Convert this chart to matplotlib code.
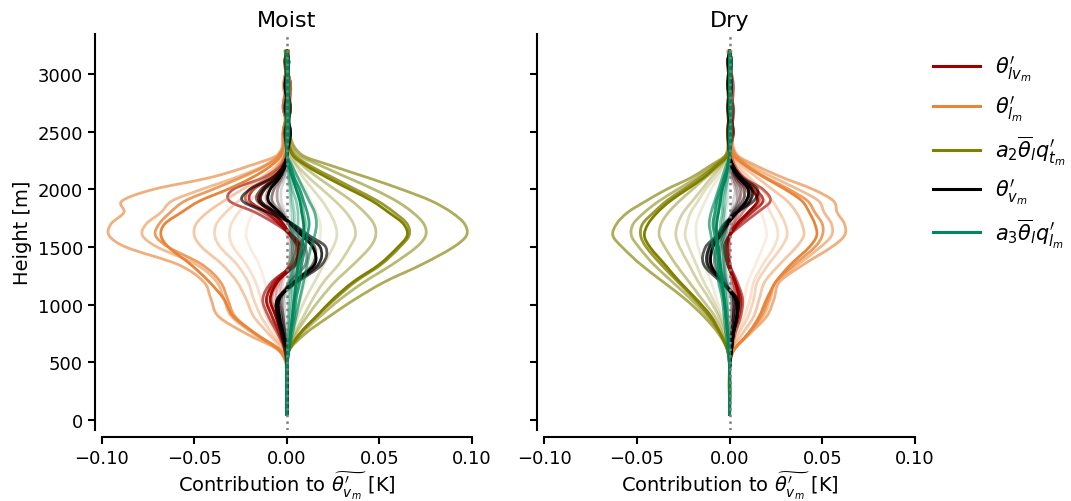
import numpy as np
import matplotlib
matplotlib.use('Agg')
import matplotlib.pyplot as plt
from matplotlib.path import Path
from matplotlib.patches import PathPatch
from matplotlib.lines import Line2D

# ---------------- data ----------------
heights = [50, 450, 600, 750, 900, 1050, 1200, 1350, 1500, 1600, 1700, 1800,
           1900, 2000, 2100, 2200, 2300, 2500, 2700, 2900, 3100, 3200]
time_alphas = [0.15, 0.25, 0.35, 0.45, 0.55, 0.65, 0.8, 1.0]

var_labels = [r"$\theta^\prime_{lv_m}$", r"$\theta^\prime_{l_m}$",
              r"$a_2\overline{\theta}_lq^\prime_{t_m}$", r"$\theta^\prime_{v_m}$",
              r"$a_3\overline{\theta}_lq^\prime_{l_m}$"]
var_colors = ['#9e0000', '#e8853a', '#808000', '#000000', '#00875a']
panel_titles = ['Moist', 'Dry']
x_ticks = [-0.10, -0.05, 0.00, 0.05, 0.10]
y_ticks = [0, 500, 1000, 1500, 2000, 2500, 3000]

moist_thlv = [
    [0, 0, 0.000, -0.001, -0.002, -0.003, -0.002, 0.001, 0.002, 0.000, -0.001, -0.003, -0.005, -0.005, -0.003, -0.001, 0.000, 0.001, -0.001, 0.001, 0.000, 0.000],
    [0, 0, 0.000, -0.002, -0.003, -0.004, -0.003, 0.001, 0.003, 0.001, -0.002, -0.005, -0.008, -0.007, -0.004, -0.001, 0.000, -0.001, 0.001, 0.000, -0.001, 0.000],
    [0, 0, 0.000, -0.002, -0.004, -0.006, -0.004, 0.002, 0.004, 0.002, -0.002, -0.007, -0.011, -0.010, -0.005, -0.002, 0.000, 0.001, 0.000, -0.001, 0.001, 0.000],
    [0, 0, 0.000, -0.003, -0.005, -0.008, -0.005, 0.002, 0.005, 0.002, -0.003, -0.009, -0.015, -0.013, -0.007, -0.002, 0.000, 0.002, -0.001, 0.001, 0.000, 0.001],
    [0, 0, -0.001, -0.004, -0.008, -0.011, -0.007, 0.003, 0.007, 0.003, -0.004, -0.013, -0.022, -0.020, -0.010, -0.003, 0.000, -0.002, 0.001, 0.002, -0.001, 0.000],
    [0, 0, -0.001, -0.005, -0.010, -0.013, -0.008, 0.004, 0.009, 0.003, -0.006, -0.017, -0.031, -0.029, -0.013, -0.004, -0.001, 0.002, -0.002, 0.000, 0.001, 0.000],
    [0, 0, -0.001, -0.004, -0.008, -0.011, -0.006, 0.005, 0.008, 0.002, -0.004, -0.011, -0.020, -0.018, -0.008, -0.002, 0.000, -0.001, 0.002, -0.001, 0.000, 0.001],
    [0, 0, 0.000, -0.003, -0.006, -0.009, -0.005, 0.004, 0.006, 0.002, -0.002, -0.008, -0.015, -0.013, -0.006, -0.002, 0.000, 0.001, -0.001, 0.002, -0.001, 0.000],
]
moist_thl = [
    [0, 0, 0.000, -0.004, -0.008, -0.010, -0.012, -0.015, -0.020, -0.022, -0.021, -0.018, -0.014, -0.009, -0.005, -0.002, -0.001, 0.000, -0.001, 0.001, 0.000, 0.000],
    [0, 0, -0.001, -0.006, -0.011, -0.014, -0.017, -0.022, -0.029, -0.031, -0.030, -0.026, -0.020, -0.013, -0.008, -0.004, -0.001, -0.001, 0.001, -0.001, 0.001, 0.000],
    [0, 0, -0.001, -0.008, -0.014, -0.018, -0.021, -0.027, -0.036, -0.039, -0.038, -0.033, -0.026, -0.018, -0.010, -0.005, -0.001, 0.001, -0.001, 0.000, -0.001, 0.000],
    [0, 0, -0.002, -0.010, -0.018, -0.022, -0.027, -0.035, -0.046, -0.050, -0.049, -0.043, -0.034, -0.024, -0.014, -0.006, -0.002, -0.002, 0.001, 0.001, 0.000, -0.001],
    [0, 0, -0.003, -0.018, -0.030, -0.034, -0.038, -0.049, -0.070, -0.078, -0.076, -0.068, -0.062, -0.046, -0.028, -0.013, -0.004, 0.001, -0.002, 0.000, 0.001, 0.000],
    [0, 0, -0.004, -0.022, -0.037, -0.041, -0.045, -0.059, -0.087, -0.096, -0.095, -0.088, -0.089, -0.072, -0.042, -0.021, -0.005, -0.002, 0.001, -0.002, 0.001, 0.000],
    [0, 0, -0.003, -0.017, -0.028, -0.032, -0.036, -0.046, -0.064, -0.071, -0.069, -0.063, -0.055, -0.040, -0.025, -0.012, -0.004, 0.000, -0.001, 0.002, -0.001, 0.000],
    [0, 0, -0.004, -0.017, -0.029, -0.034, -0.042, -0.052, -0.064, -0.068, -0.066, -0.057, -0.047, -0.032, -0.019, -0.009, -0.003, -0.001, 0.002, -0.001, 0.000, 0.001],
]
moist_qt = [
    [0, 0, 0.000, 0.002, 0.004, 0.007, 0.010, 0.013, 0.017, 0.018, 0.018, 0.016, 0.013, 0.010, 0.006, 0.003, 0.001, 0.000, 0.001, -0.001, 0.000, 0.000],
    [0, 0, 0.000, 0.003, 0.006, 0.010, 0.015, 0.020, 0.025, 0.027, 0.026, 0.023, 0.019, 0.014, 0.009, 0.005, 0.001, 0.001, -0.001, 0.000, 0.001, 0.000],
    [0, 0, 0.001, 0.004, 0.009, 0.014, 0.020, 0.028, 0.034, 0.037, 0.036, 0.032, 0.026, 0.019, 0.012, 0.006, 0.002, -0.001, 0.000, 0.001, -0.001, 0.000],
    [0, 0, 0.001, 0.005, 0.011, 0.018, 0.026, 0.036, 0.045, 0.048, 0.047, 0.042, 0.035, 0.026, 0.017, 0.009, 0.003, 0.001, 0.001, -0.001, 0.000, 0.001],
    [0, 0, 0.001, 0.008, 0.018, 0.029, 0.042, 0.057, 0.070, 0.075, 0.074, 0.068, 0.059, 0.047, 0.033, 0.019, 0.006, 0.000, -0.001, 0.001, 0.000, 0.000],
    [0, 0, 0.001, 0.010, 0.023, 0.037, 0.053, 0.073, 0.090, 0.097, 0.096, 0.089, 0.078, 0.062, 0.044, 0.025, 0.008, 0.001, 0.000, -0.001, 0.001, 0.000],
    [0, 0, 0.001, 0.007, 0.016, 0.026, 0.037, 0.051, 0.061, 0.066, 0.065, 0.058, 0.049, 0.037, 0.025, 0.013, 0.004, -0.001, 0.001, 0.000, -0.001, 0.000],
    [0, 0, 0.001, 0.007, 0.016, 0.025, 0.036, 0.050, 0.060, 0.065, 0.063, 0.055, 0.046, 0.034, 0.022, 0.011, 0.003, 0.000, 0.001, 0.001, 0.000, -0.001],
]
moist_thv = [
    [0, 0, 0.000, 0.000, -0.001, -0.001, 0.001, 0.003, 0.003, 0.002, 0.001, -0.001, -0.003, -0.003, -0.001, 0.000, 0.000, 0.001, 0.000, -0.001, 0.000, 0.000],
    [0, 0, 0.000, -0.001, -0.002, -0.002, 0.001, 0.005, 0.005, 0.003, 0.001, -0.002, -0.005, -0.005, -0.002, 0.000, 0.000, -0.001, 0.001, 0.000, 0.001, 0.000],
    [0, 0, 0.000, -0.001, -0.002, -0.003, 0.002, 0.007, 0.007, 0.004, 0.001, -0.003, -0.008, -0.007, -0.003, -0.001, 0.000, 0.001, -0.001, 0.001, 0.000, 0.000],
    [0, 0, 0.000, -0.001, -0.003, -0.004, 0.002, 0.010, 0.010, 0.006, 0.002, -0.004, -0.010, -0.009, -0.004, -0.001, 0.000, 0.000, 0.001, -0.001, 0.001, 0.000],
    [0, 0, 0.000, -0.002, -0.004, -0.005, 0.004, 0.014, 0.015, 0.009, 0.002, -0.006, -0.016, -0.014, -0.006, -0.002, 0.000, 0.001, 0.000, 0.001, -0.001, 0.000],
    [0, 0, -0.001, -0.003, -0.005, -0.005, 0.006, 0.019, 0.021, 0.012, 0.003, -0.010, -0.024, -0.020, -0.008, -0.002, 0.000, -0.001, 0.002, 0.000, 0.001, 0.000],
    [0, 0, 0.000, -0.002, -0.005, -0.005, 0.005, 0.017, 0.018, 0.010, 0.003, -0.006, -0.014, -0.012, -0.005, -0.001, 0.000, 0.002, -0.001, 0.001, 0.000, 0.000],
    [0, 0, 0.000, -0.002, -0.004, -0.004, 0.004, 0.015, 0.014, 0.008, 0.002, -0.004, -0.010, -0.009, -0.004, -0.001, 0.000, 0.001, 0.001, -0.001, 0.001, 0.000],
]
moist_ql = [
    [0, 0, 0.000, 0.000, 0.001, 0.001, 0.001, 0.001, 0.002, 0.002, 0.002, 0.002, 0.002, 0.001, 0.001, 0.000, 0.000, 0.000, 0.000, 0.000, 0.000, 0.000],
    [0, 0, 0.000, 0.001, 0.001, 0.001, 0.002, 0.002, 0.002, 0.003, 0.003, 0.003, 0.002, 0.002, 0.001, 0.001, 0.000, 0.000, 0.001, 0.000, 0.000, 0.000],
    [0, 0, 0.000, 0.001, 0.001, 0.002, 0.002, 0.003, 0.003, 0.004, 0.004, 0.004, 0.003, 0.002, 0.001, 0.001, 0.000, 0.001, 0.000, 0.000, 0.001, 0.000],
    [0, 0, 0.000, 0.001, 0.002, 0.003, 0.003, 0.004, 0.005, 0.006, 0.006, 0.006, 0.005, 0.003, 0.002, 0.001, 0.000, 0.000, 0.001, 0.001, 0.000, 0.000],
    [0, 0, 0.001, 0.002, 0.003, 0.004, 0.006, 0.007, 0.008, 0.009, 0.010, 0.009, 0.008, 0.006, 0.004, 0.002, 0.000, 0.001, 0.000, 0.001, 0.000, 0.000],
    [0, 0, 0.001, 0.003, 0.005, 0.007, 0.009, 0.011, 0.013, 0.015, 0.016, 0.015, 0.012, 0.009, 0.006, 0.003, 0.000, 0.000, 0.001, 0.000, 0.001, 0.000],
    [0, 0, 0.001, 0.002, 0.004, 0.005, 0.007, 0.008, 0.010, 0.011, 0.012, 0.011, 0.009, 0.007, 0.004, 0.002, 0.000, 0.001, 0.001, 0.000, 0.000, 0.000],
    [0, 0, 0.001, 0.002, 0.003, 0.004, 0.005, 0.006, 0.008, 0.009, 0.009, 0.008, 0.007, 0.005, 0.003, 0.001, 0.000, 0.000, 0.000, 0.001, 0.000, 0.000],
]

dry_thlv = [
    [0, 0, 0.000, 0.000, 0.001, 0.001, 0.001, 0.000, 0.000, 0.000, 0.001, 0.002, 0.004, 0.003, 0.001, 0.000, 0.000, 0.001, -0.001, 0.000, 0.001, 0.000],
    [0, 0, 0.000, 0.001, 0.002, 0.002, 0.001, 0.000, 0.000, 0.000, 0.002, 0.004, 0.006, 0.005, 0.002, 0.001, 0.000, -0.001, 0.001, 0.001, 0.000, 0.000],
    [0, 0, 0.000, 0.001, 0.002, 0.003, 0.002, 0.000, -0.001, 0.000, 0.002, 0.005, 0.008, 0.007, 0.003, 0.001, 0.000, 0.001, 0.000, -0.001, 0.001, 0.000],
    [0, 0, 0.000, 0.002, 0.003, 0.004, 0.002, 0.000, -0.001, 0.000, 0.003, 0.007, 0.011, 0.009, 0.004, 0.001, 0.000, 0.000, 0.002, 0.000, -0.001, 0.000],
    [0, 0, 0.001, 0.002, 0.004, 0.005, 0.003, 0.000, -0.001, 0.000, 0.004, 0.010, 0.016, 0.013, 0.006, 0.002, 0.000, 0.002, -0.001, 0.001, 0.000, 0.000],
    [0, 0, 0.001, 0.003, 0.006, 0.007, 0.004, 0.000, -0.002, 0.000, 0.007, 0.015, 0.022, 0.018, 0.008, 0.003, 0.001, -0.001, 0.001, 0.002, 0.000, 0.000],
    [0, 0, 0.001, 0.002, 0.005, 0.006, 0.003, -0.001, -0.003, 0.000, 0.005, 0.012, 0.018, 0.014, 0.006, 0.002, 0.000, 0.001, 0.002, -0.001, 0.001, 0.000],
    [0, 0, 0.001, 0.002, 0.004, 0.005, 0.003, -0.001, -0.002, 0.000, 0.004, 0.010, 0.015, 0.012, 0.005, 0.002, 0.000, 0.002, 0.000, 0.001, -0.001, 0.000],
]
dry_thl = [
    [0, 0, 0.000, 0.003, 0.006, 0.008, 0.010, 0.014, 0.018, 0.020, 0.019, 0.017, 0.014, 0.010, 0.006, 0.003, 0.001, 0.000, 0.001, -0.001, 0.000, 0.000],
    [0, 0, 0.001, 0.004, 0.008, 0.011, 0.013, 0.018, 0.024, 0.026, 0.025, 0.022, 0.019, 0.014, 0.009, 0.004, 0.001, 0.001, -0.001, 0.000, 0.001, 0.000],
    [0, 0, 0.001, 0.005, 0.010, 0.013, 0.015, 0.021, 0.028, 0.031, 0.030, 0.027, 0.023, 0.017, 0.011, 0.005, 0.001, -0.001, 0.000, 0.001, 0.000, 0.000],
    [0, 0, 0.001, 0.007, 0.013, 0.016, 0.019, 0.027, 0.036, 0.040, 0.039, 0.036, 0.031, 0.023, 0.015, 0.007, 0.002, 0.001, 0.001, -0.001, 0.000, 0.001],
    [0, 0, 0.002, 0.010, 0.018, 0.022, 0.025, 0.037, 0.049, 0.055, 0.055, 0.051, 0.048, 0.037, 0.024, 0.012, 0.003, 0.000, -0.001, 0.001, 0.000, 0.000],
    [0, 0, 0.002, 0.011, 0.020, 0.024, 0.027, 0.040, 0.055, 0.062, 0.062, 0.058, 0.056, 0.045, 0.029, 0.015, 0.004, 0.001, 0.000, -0.001, 0.001, 0.000],
    [0, 0, 0.002, 0.010, 0.017, 0.021, 0.025, 0.035, 0.046, 0.050, 0.050, 0.046, 0.042, 0.032, 0.020, 0.010, 0.003, -0.001, 0.001, 0.000, -0.001, 0.000],
    [0, 0, 0.002, 0.010, 0.016, 0.020, 0.025, 0.033, 0.043, 0.047, 0.046, 0.043, 0.039, 0.030, 0.019, 0.009, 0.002, 0.000, 0.001, 0.001, 0.000, -0.001],
]
dry_qt = [
    [0, 0, 0.000, -0.002, -0.004, -0.007, -0.010, -0.014, -0.017, -0.018, -0.018, -0.016, -0.013, -0.010, -0.006, -0.003, 0.000, 0.000, -0.001, 0.001, 0.000, 0.000],
    [0, 0, 0.000, -0.002, -0.005, -0.009, -0.014, -0.018, -0.022, -0.024, -0.023, -0.021, -0.017, -0.013, -0.008, -0.004, -0.001, -0.001, 0.001, 0.000, -0.001, 0.000],
    [0, 0, 0.000, -0.003, -0.006, -0.011, -0.017, -0.022, -0.027, -0.029, -0.028, -0.025, -0.020, -0.015, -0.010, -0.005, -0.001, 0.001, 0.000, -0.001, 0.001, 0.000],
    [0, 0, -0.001, -0.004, -0.008, -0.015, -0.022, -0.029, -0.035, -0.038, -0.037, -0.033, -0.027, -0.020, -0.013, -0.006, -0.001, 0.000, -0.001, 0.000, 0.001, 0.000],
    [0, 0, -0.001, -0.005, -0.012, -0.021, -0.031, -0.041, -0.049, -0.053, -0.052, -0.046, -0.038, -0.028, -0.018, -0.009, -0.002, -0.001, 0.000, 0.001, 0.000, 0.000],
    [0, 0, -0.001, -0.006, -0.014, -0.024, -0.036, -0.048, -0.058, -0.063, -0.061, -0.055, -0.045, -0.034, -0.021, -0.011, -0.002, 0.001, -0.001, 0.000, -0.001, 0.000],
    [0, 0, -0.001, -0.005, -0.011, -0.019, -0.028, -0.037, -0.045, -0.048, -0.047, -0.041, -0.034, -0.025, -0.016, -0.008, -0.001, 0.000, 0.001, -0.001, 0.000, 0.000],
    [0, 0, -0.001, -0.005, -0.010, -0.018, -0.027, -0.035, -0.043, -0.046, -0.044, -0.039, -0.032, -0.023, -0.014, -0.007, -0.001, -0.001, 0.000, 0.001, 0.000, 0.000],
]
dry_thv = [
    [0, 0, 0.000, 0.000, 0.001, 0.001, -0.001, -0.003, -0.002, -0.001, 0.000, 0.001, 0.002, 0.003, 0.001, 0.000, 0.000, 0.001, 0.000, -0.001, 0.000, 0.000],
    [0, 0, 0.000, 0.001, 0.001, 0.001, -0.002, -0.004, -0.004, -0.002, -0.001, 0.001, 0.004, 0.004, 0.002, 0.000, 0.000, -0.001, 0.001, 0.000, 0.000, 0.000],
    [0, 0, 0.000, 0.001, 0.002, 0.002, -0.002, -0.006, -0.005, -0.003, -0.001, 0.002, 0.005, 0.006, 0.003, 0.001, 0.000, 0.000, -0.001, 0.001, 0.000, 0.000],
    [0, 0, 0.000, 0.001, 0.002, 0.002, -0.003, -0.008, -0.007, -0.004, -0.001, 0.002, 0.007, 0.008, 0.004, 0.001, 0.000, 0.001, 0.001, -0.001, 0.001, 0.000],
    [0, 0, 0.001, 0.002, 0.003, 0.003, -0.004, -0.011, -0.010, -0.005, -0.002, 0.003, 0.009, 0.011, 0.005, 0.001, 0.000, -0.001, 0.000, 0.001, 0.000, 0.000],
    [0, 0, 0.001, 0.002, 0.004, 0.004, -0.005, -0.014, -0.013, -0.007, -0.003, 0.004, 0.013, 0.015, 0.007, 0.002, 0.000, 0.001, -0.001, 0.000, 0.001, 0.000],
    [0, 0, 0.001, 0.002, 0.004, 0.004, -0.004, -0.012, -0.011, -0.006, -0.002, 0.004, 0.011, 0.012, 0.006, 0.002, 0.000, 0.000, 0.001, -0.001, 0.000, 0.000],
    [0, 0, 0.001, 0.002, 0.004, 0.003, -0.004, -0.010, -0.009, -0.005, -0.001, 0.004, 0.009, 0.010, 0.005, 0.001, 0.000, 0.001, 0.000, 0.001, -0.001, 0.000],
]
dry_ql = [
    [0, 0, 0.000, 0.000, -0.001, -0.001, -0.001, -0.001, -0.002, -0.002, -0.002, -0.002, -0.001, -0.001, -0.001, 0.000, 0.000, 0.000, 0.000, 0.000, 0.000, 0.000],
    [0, 0, 0.000, 0.000, -0.001, -0.001, -0.002, -0.002, -0.002, -0.003, -0.003, -0.003, -0.002, -0.002, -0.001, 0.000, 0.000, 0.000, 0.001, 0.000, 0.000, 0.000],
    [0, 0, 0.000, -0.001, -0.001, -0.002, -0.002, -0.003, -0.003, -0.004, -0.004, -0.003, -0.003, -0.002, -0.001, -0.001, 0.000, 0.001, 0.000, 0.000, 0.001, 0.000],
    [0, 0, 0.000, -0.001, -0.001, -0.002, -0.003, -0.003, -0.004, -0.005, -0.005, -0.004, -0.004, -0.003, -0.002, -0.001, 0.000, 0.000, 0.001, 0.000, 0.000, 0.000],
    [0, 0, 0.000, -0.001, -0.002, -0.003, -0.004, -0.005, -0.007, -0.007, -0.008, -0.007, -0.006, -0.004, -0.003, -0.001, 0.000, 0.001, 0.000, 0.001, 0.000, 0.000],
    [0, 0, -0.001, -0.002, -0.003, -0.004, -0.006, -0.007, -0.009, -0.010, -0.011, -0.010, -0.008, -0.006, -0.004, -0.002, 0.000, 0.000, 0.001, 0.000, 0.001, 0.000],
    [0, 0, 0.000, -0.001, -0.002, -0.003, -0.005, -0.006, -0.007, -0.008, -0.009, -0.008, -0.007, -0.005, -0.003, -0.001, 0.000, 0.001, 0.000, 0.000, 0.000, 0.000],
    [0, 0, 0.000, -0.001, -0.002, -0.003, -0.004, -0.005, -0.006, -0.007, -0.007, -0.006, -0.005, -0.004, -0.002, -0.001, 0.000, 0.000, 0.001, 0.000, 0.000, 0.000],
]

panels = [
    [moist_thlv, moist_thl, moist_qt, moist_thv, moist_ql],
    [dry_thlv, dry_thl, dry_qt, dry_thv, dry_ql],
]


# ---------------- helpers ----------------
def smooth_profile_path(xvals, zvals):
    """Piecewise cubic (Hermite) Bezier path through the read points, x as a function of z."""
    x = np.asarray(xvals, float)
    z = np.asarray(zvals, float)
    n = len(z)
    m = np.empty(n)
    m[1:-1] = (x[2:] - x[:-2]) / (z[2:] - z[:-2])
    m[0] = (x[1] - x[0]) / (z[1] - z[0])
    m[-1] = (x[-1] - x[-2]) / (z[-1] - z[-2])
    verts = [(x[0], z[0])]
    codes = [Path.MOVETO]
    for i in range(n - 1):
        h = z[i + 1] - z[i]
        verts += [(x[i] + m[i] * h / 3, z[i] + h / 3),
                  (x[i + 1] - m[i + 1] * h / 3, z[i + 1] - h / 3),
                  (x[i + 1], z[i + 1])]
        codes += [Path.CURVE4] * 3
    return Path(verts, codes)


# ---------------- figure ----------------
fig = plt.figure(figsize=(10.71, 5.02), dpi=100)
ax1 = fig.add_axes([0.0950, 0.1414, 0.3457, 0.7889])
ax2 = fig.add_axes([0.5082, 0.1414, 0.3461, 0.7889], sharey=ax1)

for ax, title, tables in zip([ax1, ax2], panel_titles, panels):
    for color, table in zip(var_colors, tables):
        for alpha, row in zip(time_alphas, table):
            ax.add_patch(PathPatch(smooth_profile_path(row, heights), fill=False,
                                   edgecolor=color, alpha=alpha, lw=2.0,
                                   joinstyle='round', capstyle='round'))
    ax.axvline(0, color='grey', ls=':', lw=1.8, zorder=5)
    ax.set_xlim(x_ticks[0], x_ticks[-1])
    ax.set_ylim(-85, 3346)
    ax.set_xticks(x_ticks)
    ax.set_xticklabels([f"{v:.2f}".replace('-', '\u2212') for v in x_ticks])
    ax.set_yticks(y_ticks)
    ax.set_title(title, fontsize=16)
    ax.set_xlabel(r"Contribution to $\widetilde{\theta^\prime_{v_m}}$ [K]",
                  fontsize=14, labelpad=1.5)
    for s in ['top', 'right']:
        ax.spines[s].set_visible(False)
    for s in ['left', 'bottom']:
        ax.spines[s].set_position(('outward', 5))
        ax.spines[s].set_linewidth(1.5)
    ax.tick_params(width=1.5, length=5, labelsize=13)

ax1.set_ylabel("Height [m]", fontsize=14)
ax2.tick_params(labelleft=False)

handles = [Line2D([], [], color=c, lw=2.2) for c in var_colors]
fig.legend(handles, var_labels, loc='upper left', bbox_to_anchor=(0.8535, 0.928),
           frameon=False, fontsize=15, handlelength=2.25, labelspacing=0.45,
           handletextpad=0.72)

fig.savefig('out.png', dpi=100)
